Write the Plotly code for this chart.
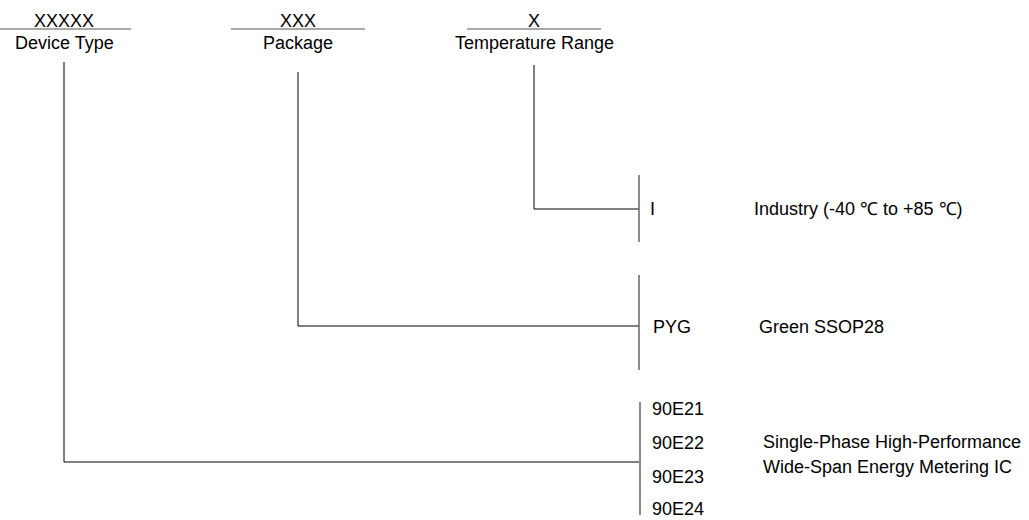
import plotly.graph_objects as go

# ---- content ----
field_codes = ["XXXXX", "XXX", "X"]
field_names = ["Device Type", "Package", "Temperature Range"]
temp_codes = ["I"]
temp_desc = ["Industry (-40 ℃ to +85 ℃)"]
pkg_codes = ["PYG"]
pkg_desc = ["Green SSOP28"]
device_codes = ["90E21", "90E22", "90E23", "90E24"]
device_desc = ["Single-Phase High-Performance", "Wide-Span Energy Metering IC"]

# ---- layout geometry (pixels) ----
W, H = 1029, 520
FONT = "Liberation Sans, Arial, sans-serif"
FS = 18
col_x = [64, 298, 534]          # centers of the three header fields
ul_half = 67                    # half-width of header underlines
ul_y = 29
branch_y = [462, 326, 209]      # horizontal branch y for device, package, temp
bar_x = 639
code_x = 648
desc_x = [752, 757, 761]        # temp, package, device description starts

fig = go.Figure()
fig.add_trace(go.Scatter(x=[0], y=[0], mode="markers", marker=dict(opacity=0), hoverinfo="skip", showlegend=False))

shapes = []
ann = []

def line(x0, y0, x1, y1, color="black", width=1):
    shapes.append(dict(type="line", x0=x0, y0=y0, x1=x1, y1=y1, xref="x", yref="y",
                       line=dict(color=color, width=width)))

def text(x, y, s, xanchor="center"):
    ann.append(dict(x=x, y=y, xref="x", yref="y", text=s, showarrow=False,
                    xanchor=xanchor, yanchor="middle",
                    font=dict(family=FONT, size=FS, color="black")))

# headers
for cx, code, name in zip(col_x, field_codes, field_names):
    line(cx - ul_half, ul_y, cx + ul_half, ul_y, color="#555", width=1.2)
    text(cx, ul_y - 8, code)
    text(cx, ul_y + 14, name)

# connector lines from headers
top_y = [62, 72, 65]
for cx, ty, by in zip(col_x, top_y, branch_y):
    line(cx, ty, cx, by)
    line(cx, by, bar_x, by)

# temperature group
line(bar_x, 175, bar_x, 242, color="#666", width=1.5)
text(code_x, branch_y[2], temp_codes[0], xanchor="left")
text(desc_x[0], branch_y[2], temp_desc[0], xanchor="left")

# package group
line(bar_x, 275, bar_x, 370, color="#666", width=1.5)
text(code_x + 3, branch_y[1] + 1, pkg_codes[0], xanchor="left")
text(desc_x[1], branch_y[1] + 1, pkg_desc[0], xanchor="left")

# device group
line(bar_x + 1, 402, bar_x + 1, 515, color="#666", width=1.5)
dev_y = [409, 443, 477, 509]
for yy, c in zip(dev_y, device_codes):
    text(code_x + 2, yy, c, xanchor="left")
for yy, d in zip([442, 467], device_desc):
    text(desc_x[2], yy, d, xanchor="left")

fig.update_layout(
    width=W, height=H, margin=dict(l=0, r=0, t=0, b=0),
    paper_bgcolor="white", plot_bgcolor="white",
    xaxis=dict(range=[0, W], visible=False, fixedrange=True),
    yaxis=dict(range=[H, 0], visible=False, fixedrange=True),
    shapes=shapes, annotations=ann, showlegend=False,
)
fig.write_html("out.html", config={"displayModeBar": False},
               post_script="document.body.style.margin='0';document.body.style.overflow='hidden';")
